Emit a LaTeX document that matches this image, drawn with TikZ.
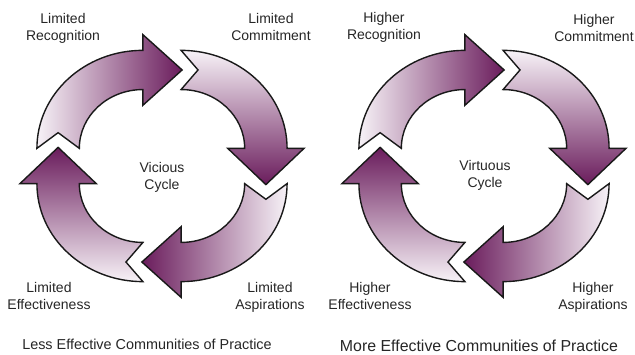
\documentclass[tikz,border=0pt]{standalone}
\usepackage{fontspec}
\setmainfont{Liberation Sans}
\usetikzlibrary{positioning}

\definecolor{plumdark}{RGB}{106,28,92}
\definecolor{plumlight}{RGB}{247,242,247}

\tikzset{
  cyclearrow/.style={draw=black!90, line width=1.4pt, line join=miter,
    top color=plumdark, bottom color=plumlight},
  steplabel/.style={align=center, anchor=base, inner sep=0pt,
    font=\fontsize{14}{17}\selectfont, text=black!85},
  captionlabel/.style={anchor=base, inner sep=0pt, text=black!85},
}

% arrow dimensions
\newcommand{\arcouter}{100}
\newcommand{\arcinner}{60}
\newcommand{\arcmid}{80}
\newcommand{\headhalf}{36}
\newcommand{\headlen}{37}
\newcommand{\notchdepth}{16}
\newcommand{\arcshift}{18}

\begin{document}
\begin{tikzpicture}[x=1pt, y=1pt]
    \useasboundingbox (0,0) rectangle (635,355);

    % Both cycles of four quarter arrows
    \foreach \cx in {162,484} {
      \begin{scope}[shift={(\cx,189)}, xscale=1.06, yscale=0.98]
        \foreach \ta/\sx/\sy/\s in {180/-1/1/-90, 90/1/1/180, 0/1/-1/90, -90/-1/-1/0} {
          \pgfmathsetmacro\hb{\ta-90}
          \pgfmathsetmacro\hout{\arcmid+\headhalf}
          \pgfmathsetmacro\hin{\arcmid-\headhalf}
          \pgfmathsetmacro\tipx{\arcmid*cos(\hb)+\headlen*cos(\hb-90)}
          \pgfmathsetmacro\tipy{\arcmid*sin(\hb)+\headlen*sin(\hb-90)}
          \pgfmathsetmacro\nx{\arcmid*cos(\ta)+\notchdepth*cos(\ta-90)}
          \pgfmathsetmacro\ny{\arcmid*sin(\ta)+\notchdepth*sin(\ta-90)}
          \shadedraw[cyclearrow, shading angle=\s, shift={(\sx*\arcshift,\sy*\arcshift)}]
            (\ta:\arcouter) arc[start angle=\ta, end angle=\hb, radius=\arcouter]
            -- (\hb:\hout) -- (\tipx,\tipy) -- (\hb:\hin) -- (\hb:\arcinner)
            arc[start angle=\hb, end angle=\ta, radius=\arcinner]
            -- (\nx,\ny) -- cycle;
        }
      \end{scope}
    }

    % Vicious cycle
    \node[steplabel] (lrec) at (63,314) {Limited\\Recognition};
    \node[steplabel] (lcom) at (271,314) {Limited\\Commitment};
    \node[steplabel] (vic) at (162,165) {Vicious\\Cycle};
    \node[steplabel] (leff) at (49,45) {Limited\\Effectiveness};
    \node[steplabel] (lasp) at (270,45) {Limited\\Aspirations};
    \node[captionlabel, font=\fontsize{14.4}{17}\selectfont] (less) at (147,5) {Less Effective Communities of Practice};

    % Virtuous cycle
    \node[steplabel] (hrec) at (384,315) {Higher\\Recognition};
    \node[steplabel] (hcom) at (594,313) {Higher\\Commitment};
    \node[steplabel] (vir) at (485,167) {Virtuous\\Cycle};
    \node[steplabel] (heff) at (370,45) {Higher\\Effectiveness};
    \node[steplabel] (hasp) at (593,45) {Higher\\Aspirations};
    \node[captionlabel, font=\fontsize{15.9}{19}\selectfont] (more) at (479,3) {More Effective Communities of Practice};
\end{tikzpicture}
\end{document}
